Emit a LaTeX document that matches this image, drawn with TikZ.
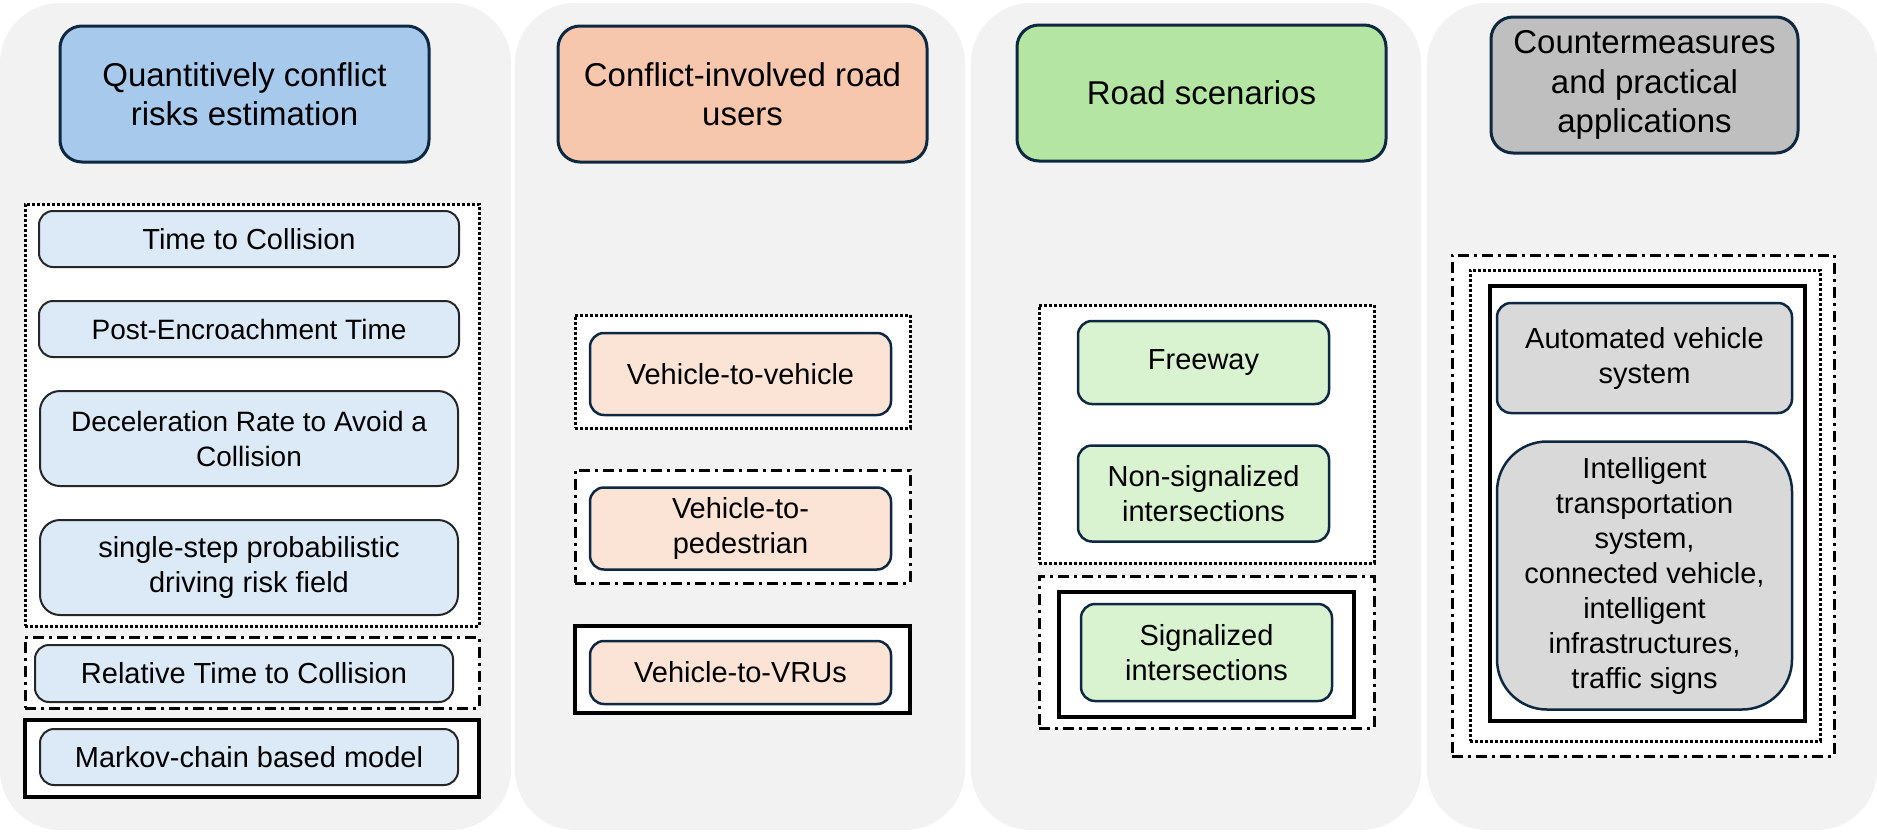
\documentclass[tikz,border=0pt]{standalone}
\usepackage{fontspec}
\setmainfont{Liberation Sans}
\usetikzlibrary{positioning}
\definecolor{panelgray}{HTML}{F2F2F2}
\definecolor{navy}{HTML}{0E2841}
\definecolor{blueH}{HTML}{A6C9EC}
\definecolor{blueL}{HTML}{DCEAF7}
\definecolor{peachH}{HTML}{F6C6AD}
\definecolor{peachL}{HTML}{FBE3D6}
\definecolor{greenH}{HTML}{B4E5A2}
\definecolor{greenL}{HTML}{D9F2D0}
\definecolor{grayH}{HTML}{BFBFBF}
\definecolor{grayL}{HTML}{D9D9D9}

\begin{document}
\begin{tikzpicture}[x=1pt,y=-1pt,
  panel/.style={fill=panelgray,rounded corners=60pt,inner sep=0pt,minimum height=827pt},
  head/.style={draw=navy,line width=3pt,rounded corners=22pt,inner sep=0pt,minimum width=369pt,minimum height=136pt,align=center,font=\fontsize{33}{39.5}\selectfont},
  item/.style={draw=navy,line width=2.5pt,rounded corners=14pt,inner sep=0pt,minimum width=301pt,align=center,font=\fontsize{29}{35}\selectfont},
  itemA/.style={item,draw=black!85,line width=2pt,fill=blueL,minimum width=418pt},
  grpdot/.style={draw,fill=white,line width=3pt,dash pattern=on 3pt off 2pt,inner sep=0pt},
  grpdash/.style={draw,fill=white,line width=3pt,dash pattern=on 11pt off 5pt on 3pt off 5pt,inner sep=0pt},
  grpsolid/.style={draw,fill=white,line width=3.5pt,inner sep=0pt}]
  \useasboundingbox (0,0) rectangle (1877,831);
  \node[panel,minimum width=511pt] (p1) at (255.5,416.5) {};
  \node[panel,minimum width=450pt] (p2) at (740,416.5) {};
  \node[panel,minimum width=450pt] (p3) at (1196,416.5) {};
  \node[panel,minimum width=450pt] (p4) at (1652,416.5) {};

  \node[head,fill=blueH] (h1) at (244.5,94) {Quantitively conflict\\risks estimation};
  \node[head,fill=peachH] (h2) at (742.5,94) {Conflict-involved road\\users};
  \node[head,fill=greenH] (h3) at (1201.5,93) {Road scenarios};
  \node[head,fill=grayH,minimum width=307pt] (h4) at (1644.5,85) {Countermeasures\\and practical\\applications};

  \node[grpdot,minimum width=454pt,minimum height=422pt] (g1dot) at (252,415) {};
  \node[grpdash,minimum width=454pt,minimum height=71pt] (g1dash) at (252,672.5) {};
  \node[grpsolid,minimum width=454pt,minimum height=77pt] (g1solid) at (252,758.5) {};
  \node[itemA,minimum width=420pt,minimum height=56pt] (ttc) at (249,239) {Time to Collision};
  \node[itemA,minimum width=420pt,minimum height=56pt,below=32pt of ttc,font=\fontsize{28}{34}\selectfont] (pet) {Post-Encroachment Time};
  \node[itemA,minimum height=95pt,rounded corners=20pt,below=32pt of pet,font=\fontsize{28}{35}\selectfont] (drac) {Deceleration Rate to Avoid a\\Collision};
  \node[itemA,minimum height=95pt,rounded corners=20pt,below=32pt of drac] (spdrf) {single-step probabilistic\\driving risk field};
  \node[itemA,minimum height=57pt] (rttc) at (244,673.5) {Relative Time to Collision};
  \node[itemA,minimum height=56pt] (markov) at (249,757) {Markov-chain based model};

  \node[grpdot,minimum width=335pt,minimum height=113pt] (g2dot) at (742.5,371.5) {};
  \node[grpdash,minimum width=335pt,minimum height=113pt] (g2dash) at (742.5,526.5) {};
  \node[grpsolid,minimum width=335pt,minimum height=87pt] (g2solid) at (742.5,669.5) {};
  \node[item,fill=peachL,minimum height=82pt] (v2v) at (740.5,374) {Vehicle-to-vehicle};
  \node[item,fill=peachL,minimum height=82pt,below=70pt of v2v] (v2p) {Vehicle-to-\\pedestrian};
  \node[item,fill=peachL,minimum height=63pt,below=69pt of v2p] (v2vru) {Vehicle-to-VRUs};

  \node[grpdot,minimum width=335pt,minimum height=258pt] (g3dot) at (1206.5,434) {};
  \node[grpdash,minimum width=335pt,minimum height=152pt] (g3dash) at (1206.5,652) {};
  \node[grpsolid,minimum width=295pt,minimum height=125pt] (g3solid) at (1206.5,654.5) {};
  \node[item,fill=greenL,minimum width=251pt,minimum height=83pt] (fwy) at (1203.5,362.5) {Freeway};
  \node[item,fill=greenL,minimum width=251pt,minimum height=96pt,below=39pt of fwy] (nonsig) {Non-signalized\\intersections};
  \node[item,fill=greenL,minimum width=251pt,minimum height=97pt] (sig) at (1206.5,652.5) {Signalized\\intersections};

  \node[grpdash,minimum width=382pt,minimum height=501pt] (g4dash) at (1643,505.5) {};
  \node[grpdot,minimum width=350pt,minimum height=471pt] (g4dot) at (1645,505.5) {};
  \node[grpsolid,minimum width=315pt,minimum height=435pt] (g4solid) at (1647.5,503.5) {};
  \node[item,fill=grayL,minimum width=295pt,minimum height=110pt] (avs) at (1644.5,358) {Automated vehicle\\system};
  \node[item,fill=grayL,minimum width=295pt,minimum height=268pt,rounded corners=50pt,below=26pt of avs] (its) {Intelligent\\transportation\\system,\\connected vehicle,\\intelligent\\infrastructures,\\traffic signs};
\end{tikzpicture}
\end{document}
